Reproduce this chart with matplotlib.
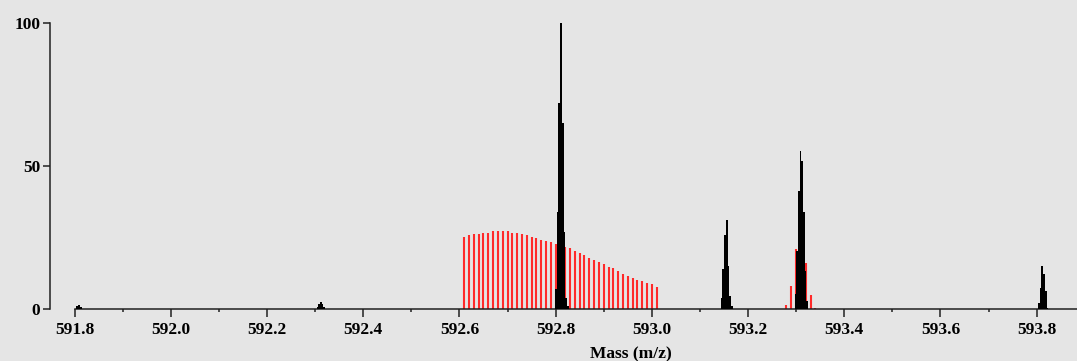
import numpy as np
import matplotlib
matplotlib.use("Agg")
import matplotlib.pyplot as plt
from matplotlib.ticker import FixedLocator
from matplotlib.font_manager import FontProperties

# measured spectrum (black, profile sticks)
obs_mz = [591.8055, 591.8090, 591.8125,
          592.3050, 592.3085, 592.3120, 592.3155, 592.3190,
          592.8008, 592.8043, 592.8078, 592.8113, 592.8148, 592.8183, 592.8218, 592.8253,
          593.1450, 593.1485, 593.1520, 593.1555, 593.1590, 593.1625, 593.1660,
          593.2985, 593.3020, 593.3055, 593.3090, 593.3125, 593.3160, 593.3195, 593.3230,
          593.8050, 593.8085, 593.8120, 593.8155, 593.8190, 593.8225]
obs_int = [1.0, 1.5, 0.6,
           0.6, 1.6, 2.6, 1.6, 0.6,
           7.0, 34.0, 72.0, 100.0, 65.0, 27.0, 4.0, 1.0,
           4.0, 14.0, 26.0, 31.0, 15.0, 4.6, 1.0,
           5.2, 20.4, 41.4, 55.4, 51.9, 33.8, 13.3, 2.8,
           2.2, 7.5, 15.1, 12.2, 6.3, 0.5]

# theoretical envelope (red sticks)
th_mz = [592.61, 592.62, 592.63, 592.64, 592.65, 592.66, 592.67, 592.68, 592.69, 592.70,
         592.71, 592.72, 592.73, 592.74, 592.75, 592.76, 592.77, 592.78, 592.79, 592.80,
         592.81, 592.82, 592.83, 592.84, 592.85, 592.86, 592.87, 592.88, 592.89, 592.90,
         592.91, 592.92, 592.93, 592.94, 592.95, 592.96, 592.97, 592.98, 592.99, 593.00,
         593.01,
         593.28, 593.29, 593.30, 593.31, 593.32, 593.33, 593.34]
th_int = [25.3, 25.7, 26.2, 26.2, 26.7, 26.7, 27.1, 27.1, 27.1, 27.1,
          26.7, 26.7, 26.2, 25.7, 25.3, 24.8, 24.3, 23.9, 23.4, 22.9,
          22.4, 21.8, 21.3, 20.4, 19.6, 18.9, 18.0, 17.1, 16.6, 15.7,
          14.7, 14.3, 13.3, 12.4, 11.7, 11.0, 10.3, 9.8, 9.1, 8.7,
          7.7,
          1.4, 8.0, 20.9, 21.0, 16.0, 4.8, 0.5]

xticks = [591.8, 592.0, 592.2, 592.4, 592.6, 592.8, 593.0, 593.2, 593.4, 593.6, 593.8]

bg = "#e5e5e5"
fig = plt.figure(figsize=(10.77, 3.61), dpi=100, facecolor=bg)
ax = fig.add_axes([50 / 1077, 52 / 361, 1027 / 1077, 286 / 361])
ax.set_facecolor(bg)

ax.vlines(th_mz, 0, th_int, colors="#ff2a2a", linewidth=1.5, zorder=2)
ax.bar(obs_mz, obs_int, width=0.0037, color="black", linewidth=0, zorder=3)

xmin, xmax = 591.7487, 593.884
ax.set_xlim(xmin, xmax)
ax.set_ylim(0, 100)

for s in ["top", "right"]:
    ax.spines[s].set_visible(False)
for s in ["left", "bottom"]:
    ax.spines[s].set_color("#202020")
    ax.spines[s].set_linewidth(1.1)
ax.spines["bottom"].set_bounds(591.8, xmax)
ax.spines["left"].set_bounds(0, 100)

ax.xaxis.set_major_locator(FixedLocator(xticks))
ax.xaxis.set_minor_locator(FixedLocator([v + 0.1 for v in xticks]))
ax.set_xticklabels(["%.1f" % v for v in xticks])
ax.yaxis.set_major_locator(FixedLocator([0, 50, 100]))

font = dict(family="Liberation Serif", weight="bold", size=12.5)
for lab in ax.get_xticklabels() + ax.get_yticklabels():
    lab.set_fontproperties(FontProperties(**font))

ax.tick_params(axis="x", which="major", direction="out", length=5.5, width=1.1,
               color="#202020", pad=4)
ax.tick_params(axis="x", which="minor", direction="out", length=2.5, width=1.1,
               color="#202020")
ax.tick_params(axis="y", which="major", direction="out", length=5, width=1.1,
               color="#202020", pad=2)

ax.set_xlabel("Mass (m/z)", **font)
ax.xaxis.set_label_coords((631 - 50) / 1027, (309 - 346) / 286)

fig.savefig("out.png", dpi=100, facecolor=bg)
